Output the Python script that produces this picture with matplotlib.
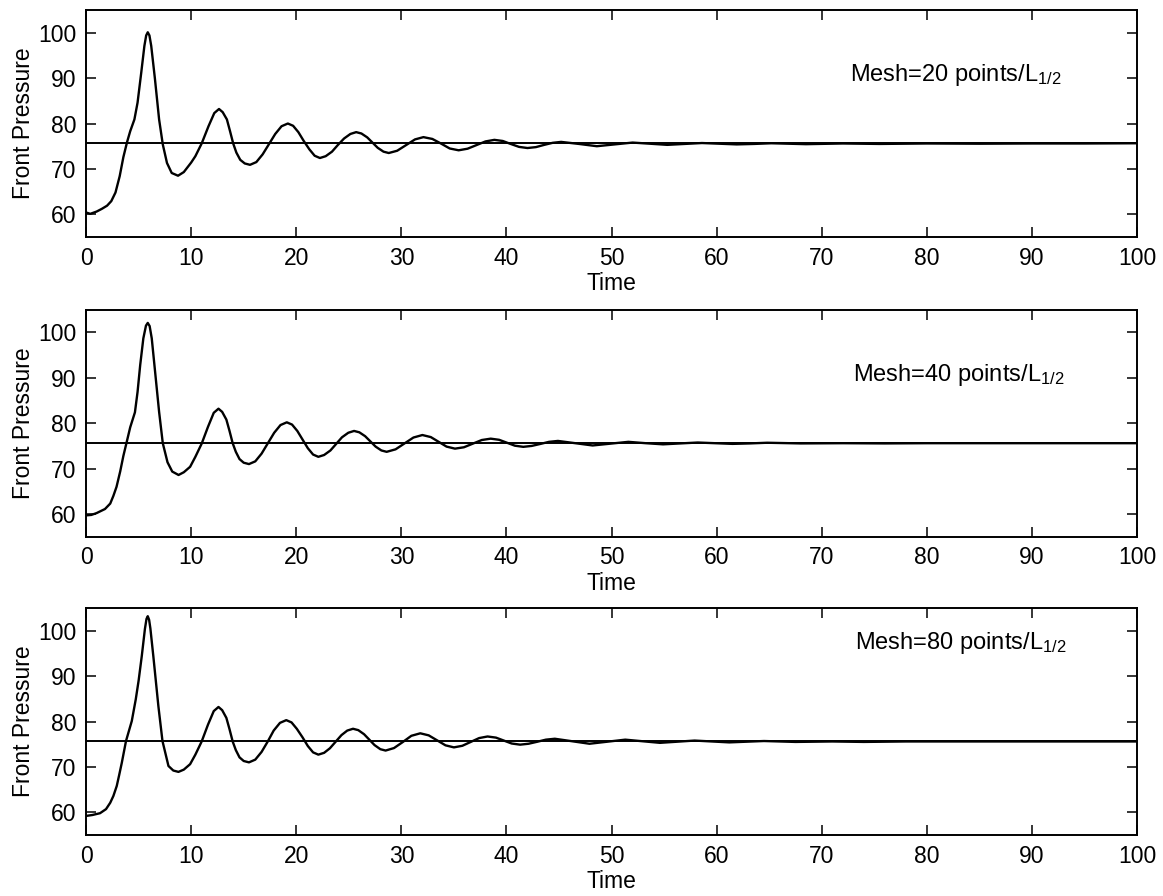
import matplotlib
matplotlib.use('Agg')
import matplotlib.pyplot as plt

plt.rcParams['font.family'] = ['Liberation Sans', 'DejaVu Sans']
plt.rcParams['mathtext.default'] = 'regular'

# steady state front pressure (horizontal line)
p_steady = 75.6

# Mesh = 20 points/L1/2
t_20 = [0, 0.4, 1.0, 1.5, 2.0, 2.4, 2.8, 3.2, 3.55, 3.9, 4.2, 4.6, 4.9, 5.25, 5.55, 5.72, 5.87, 6.03, 6.2, 6.55, 6.95, 7.3, 7.7, 8.15, 8.75,
        9.3, 9.6, 10.0, 10.4, 11.0, 11.65, 12.2, 12.65, 13.0, 13.4, 13.7, 14.0, 14.3, 14.67, 15.1, 15.6,
        16.2, 16.8, 17.4, 18.0, 18.6, 19.2, 19.7, 20.2, 20.7, 21.25, 21.75, 22.25,
        22.8, 23.4, 23.95, 24.55, 25.15, 25.7, 26.2, 26.75, 27.25, 27.75, 28.3, 28.8,
        29.6, 30.45, 31.3, 32.1, 32.95, 33.8, 34.6, 35.45, 36.3, 37.15, 38.0, 38.85,
        39.65, 40.4, 41.2, 42.0, 42.8, 43.6, 44.4, 45.2,
        46.9, 48.6, 50.3, 52.0, 53.65, 55.3, 56.95, 58.6, 60.25, 61.9, 63.55, 65.2, 66.85, 68.5,
        72, 75.5, 80, 85, 90, 95, 100]
p_20 = [60.4, 60.1, 60.6, 61.2, 61.9, 62.9, 64.8, 68.4, 72.6, 75.9, 78.3, 80.9, 84.6, 91.2, 97.1, 99.4, 100.1, 99.4, 97.1, 89.9, 80.9, 75.4, 71.3, 69.1, 68.5,
        69.3, 70.2, 71.4, 72.8, 75.6, 79.4, 82.3, 83.2, 82.5, 80.9, 78.3, 75.6, 73.6, 72.0, 71.2, 70.9,
        71.5, 73.2, 75.45, 77.7, 79.4, 80.0, 79.5, 78.1, 76.2, 74.3, 72.9, 72.4,
        72.8, 73.8, 75.25, 76.7, 77.7, 78.1, 77.8, 76.95, 75.8, 74.65, 73.8, 73.5,
        74.0, 75.25, 76.5, 77.0, 76.6, 75.55, 74.5, 74.1, 74.45, 75.25, 76.05, 76.4,
        76.15, 75.5, 74.85, 74.6, 74.8, 75.3, 75.75, 75.95,
        75.5, 75.0, 75.4, 75.8, 75.55, 75.3, 75.5, 75.7, 75.55, 75.4, 75.5, 75.65, 75.55, 75.45,
        75.6, 75.5, 75.6, 75.55, 75.6, 75.6, 75.65]

# Mesh = 40 points/L1/2
t_40 = [0, 0.5, 1.0, 1.8, 2.3, 2.6, 2.9, 3.25, 3.55, 3.85, 4.2, 4.65, 4.9, 5.15, 5.45, 5.7, 5.87, 6.05, 6.25, 6.57, 6.95, 7.3, 7.75, 8.2, 8.8,
        9.3, 9.9, 10.4, 11.0, 11.6, 12.15, 12.6, 12.95, 13.35, 13.65, 13.95, 14.25, 14.6, 15.0, 15.5,
        16.1, 16.7, 17.3, 17.9, 18.5, 19.1, 19.6, 20.1, 20.6, 21.1, 21.6, 22.1,
        22.65, 23.25, 23.8, 24.35, 24.95, 25.5, 26.0, 26.55, 27.05, 27.55, 28.1, 28.6,
        29.45, 30.3, 31.15, 32.0, 32.8, 33.55, 34.3, 35.1, 35.95, 36.8, 37.65, 38.5,
        39.3, 40.05, 40.8, 41.6, 42.4, 43.25, 44.05, 44.9,
        46.55, 48.2, 49.9, 51.6, 53.25, 54.9, 56.55, 58.2, 59.85, 61.5, 63.15, 64.8,
        68, 72, 76, 80, 85, 90, 95, 100]
p_40 = [59.7, 59.8, 60.2, 61.1, 62.3, 64.0, 66.0, 69.4, 72.8, 75.7, 79.1, 82.4, 86.9, 92.8, 98.7, 101.5, 102.1, 101.4, 98.7, 91.3, 82.5, 75.6, 71.4, 69.35, 68.6,
        69.2, 70.4, 72.6, 75.5, 79.2, 82.3, 83.2, 82.5, 80.8, 78.3, 75.6, 73.7, 72.1, 71.3, 71.0,
        71.6, 73.3, 75.6, 77.9, 79.6, 80.2, 79.7, 78.3, 76.4, 74.5, 73.1, 72.6,
        73.0, 74.0, 75.45, 76.9, 77.9, 78.3, 78.0, 77.15, 76.0, 74.85, 74.0, 73.7,
        74.25, 75.55, 76.85, 77.4, 76.95, 75.9, 74.85, 74.4, 74.7, 75.5, 76.3, 76.6,
        76.35, 75.7, 75.05, 74.8, 75.0, 75.45, 75.9, 76.1,
        75.6, 75.1, 75.5, 75.9, 75.6, 75.35, 75.55, 75.75, 75.6, 75.45, 75.55, 75.7,
        75.55, 75.6, 75.55, 75.6, 75.6, 75.6, 75.6, 75.6]

# Mesh = 80 points/L1/2
t_80 = [0, 0.6, 1.33, 1.9, 2.3, 2.6, 2.92, 3.15, 3.4, 3.8, 4.35, 4.73, 5.0, 5.3, 5.6, 5.75, 5.87, 6.0, 6.12, 6.4, 6.88, 7.27, 7.84, 8.3, 8.79,
        9.3, 9.9, 10.4, 11.0, 11.6, 12.15, 12.6, 12.95, 13.35, 13.65, 13.95, 14.25, 14.6, 15.0, 15.5,
        16.1, 16.7, 17.3, 17.85, 18.45, 19.05, 19.55, 20.05, 20.6, 21.1, 21.6, 22.1,
        22.65, 23.2, 23.75, 24.3, 24.85, 25.4, 25.9, 26.45, 26.95, 27.45, 28.0, 28.5,
        29.3, 30.15, 30.95, 31.8, 32.6, 33.4, 34.2, 35.0, 35.8, 36.6, 37.4, 38.2,
        39.0, 39.75, 40.5, 41.3, 42.1, 42.95, 43.75, 44.6,
        46.25, 47.9, 49.6, 51.3, 52.95, 54.6, 56.25, 57.9, 59.55, 61.2, 62.85, 64.5,
        67.5, 71, 74, 78, 84, 90, 95, 100]
p_80 = [59.2, 59.4, 59.8, 60.7, 62.1, 63.6, 65.8, 68.2, 70.9, 75.7, 80.1, 84.9, 89.0, 94.4, 100.4, 102.6, 103.2, 102.4, 100.5, 94.4, 83.4, 75.7, 70.2, 69.2, 68.9,
        69.4, 70.6, 72.7, 75.6, 79.3, 82.3, 83.2, 82.5, 80.8, 78.3, 75.6, 73.7, 72.1, 71.3, 71.0,
        71.6, 73.3, 75.65, 78.0, 79.7, 80.3, 79.8, 78.4, 76.5, 74.6, 73.2, 72.7,
        73.1, 74.1, 75.55, 77.0, 78.0, 78.4, 78.1, 77.2, 76.0, 74.8, 73.9, 73.6,
        74.15, 75.5, 76.85, 77.4, 76.95, 75.85, 74.75, 74.3, 74.65, 75.5, 76.35, 76.7,
        76.45, 75.8, 75.15, 74.9, 75.1, 75.55, 76.0, 76.2,
        75.65, 75.1, 75.55, 76.0, 75.65, 75.3, 75.55, 75.8, 75.6, 75.4, 75.55, 75.7,
        75.5, 75.6, 75.5, 75.6, 75.6, 75.6, 75.6, 75.6]

meshes = [20, 40, 80]
curves = [(t_20, p_20), (t_40, p_40), (t_80, p_80)]
x_ticks = [0, 10, 20, 30, 40, 50, 60, 70, 80, 90, 100]
y_ticks = [60, 70, 80, 90, 100]

# where the mesh note sits (data coords) and the panel bottoms (figure fraction)
note_x = [72.7, 73.0, 73.2]
note_y = [89.3, 89.3, 95.9]
bottoms = [0.7355, 0.401, 0.0681]

fig = plt.figure(figsize=(11.63, 8.96), dpi=100)
for i in range(3):
    t, p = curves[i]
    ax = fig.add_axes([0.074, bottoms[i], 0.9037, 0.2533])
    ax.plot(t, p, 'k', lw=1.7)
    ax.axhline(p_steady, color='k', lw=1.4)
    ax.set_xlim(0, 100)
    ax.set_ylim(55, 105)
    ax.set_xticks(x_ticks)
    ax.set_yticks(y_ticks)
    ax.tick_params(direction='in', top=True, right=True, length=7, width=1.1,
                   labelsize=16.5, pad=7)
    for s in ax.spines.values():
        s.set_linewidth(1.4)
    ax.set_xlabel('Time', fontsize=16.5, labelpad=2)
    ax.set_ylabel('Front Pressure', fontsize=16.5, labelpad=2)
    ax.text(note_x[i], note_y[i], 'Mesh=%d points/L$_{1/2}$' % meshes[i],
            fontsize=17, va='baseline', ha='left')

plt.savefig('out.png', dpi=100)
